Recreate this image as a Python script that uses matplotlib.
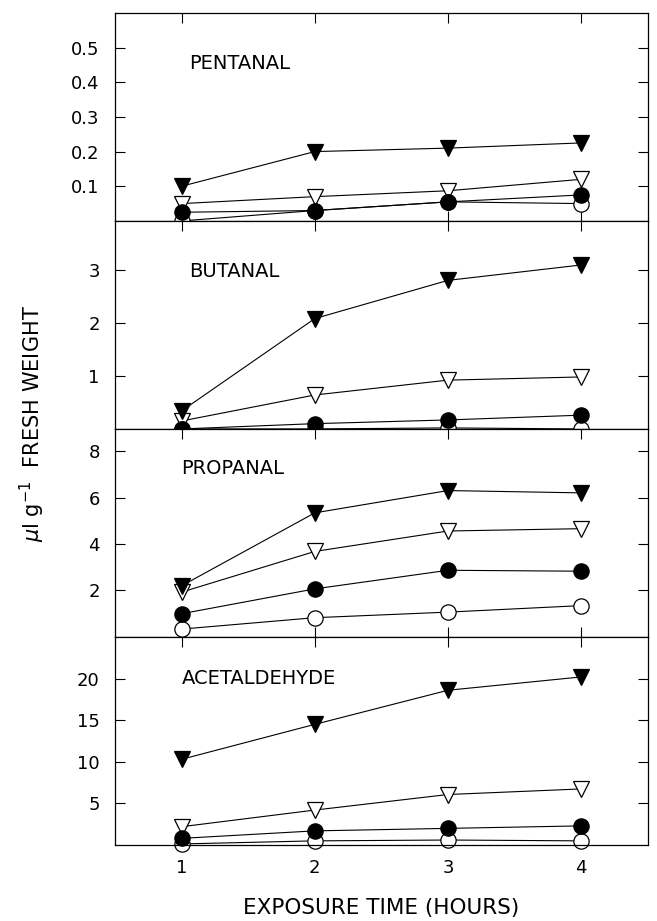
import matplotlib.pyplot as plt

plt.rcParams['font.family'] = ['DejaVu Sans']
plt.rcParams['mathtext.fontset'] = 'dejavusans'

hours = [1, 2, 3, 4]

# panel names, top to bottom
panels = ['PENTANAL', 'BUTANAL', 'PROPANAL', 'ACETALDEHYDE']

# four series per panel: filled triangle, open triangle, filled circle, open circle
pent_ftri = [0.10, 0.20, 0.21, 0.225]
pent_otri = [0.05, 0.07, 0.087, 0.12]
pent_fcir = [0.025, 0.03, 0.055, 0.075]
pent_ocir = [0.0, 0.03, 0.055, 0.05]

but_ftri = [0.34, 2.08, 2.8, 3.09]
but_otri = [0.15, 0.64, 0.92, 0.98]
but_fcir = [0.0, 0.1, 0.17, 0.26]
but_ocir = [0.0, 0.0, 0.02, 0.0]

prop_ftri = [2.2, 5.34, 6.3, 6.2]
prop_otri = [1.93, 3.68, 4.56, 4.66]
prop_fcir = [1.0, 2.07, 2.87, 2.83]
prop_ocir = [0.34, 0.83, 1.07, 1.35]

acet_ftri = [10.3, 14.5, 18.6, 20.2]
acet_otri = [2.2, 4.2, 6.07, 6.74]
acet_fcir = [0.8, 1.7, 2.0, 2.3]
acet_ocir = [0.13, 0.5, 0.6, 0.5]

data = [
    (pent_ftri, pent_otri, pent_fcir, pent_ocir),
    (but_ftri, but_otri, but_fcir, but_ocir),
    (prop_ftri, prop_otri, prop_fcir, prop_ocir),
    (acet_ftri, acet_otri, acet_fcir, acet_ocir),
]
ylims = [0.6, 3.92, 8.95, 25.0]
yticks = [[0.1, 0.2, 0.3, 0.4, 0.5], [1, 2, 3], [2, 4, 6, 8], [5, 10, 15, 20]]
ytlabels = [['0.1', '0.2', '0.3', '0.4', '0.5'], ['1', '2', '3'],
            ['2', '4', '6', '8'], ['5', '10', '15', '20']]
label_pos = [(1.06, 0.757), (1.06, 0.756), (1.0, 0.81), (1.0, 0.80)]

fig = plt.figure(figsize=(6.57, 9.21), dpi=100)
gs = fig.add_gridspec(4, 1, left=0.175, right=0.986, top=0.986, bottom=0.0825, hspace=0)

for i in range(4):
    ax = fig.add_subplot(gs[i])
    ftri, otri, fcir, ocir = data[i]
    kw = dict(color='black', lw=0.8, mec='black', mew=0.9, clip_on=False)
    ax.plot(hours, otri, marker='v', ms=11.5, mfc='white', **kw)
    ax.plot(hours, ftri, marker='v', ms=11.5, mfc='black', **kw)
    ax.plot(hours, ocir, marker='o', ms=11, mfc='white', **kw)
    ax.plot(hours, fcir, marker='o', ms=11, mfc='black', **kw)

    ax.set_xlim(0.5, 4.5)
    ax.set_ylim(0, ylims[i])
    ax.set_xticks(hours)
    ax.set_yticks(yticks[i])
    ax.set_yticklabels(ytlabels[i])
    ax.tick_params(direction='in', length=7, width=0.8, top=True, right=True,
                   labelsize=13, pad=10)
    ax.tick_params(axis='y', pad=11)
    if i < 3:
        ax.tick_params(labelbottom=False)
    for s in ax.spines.values():
        s.set_linewidth(0.9)
    ax.text(label_pos[i][0], label_pos[i][1], panels[i],
            transform=ax.get_xaxis_transform(), fontsize=14, ha='left', va='center')

fig.text(0.5805, 0.014, 'EXPOSURE TIME (HOURS)', fontsize=15.5, ha='center', va='center')
fig.text(0.05, 0.54, r'$\mu$l g$^{-1}$  FRESH WEIGHT', rotation=90, fontsize=15,
         ha='center', va='center')

plt.savefig('out.png')
